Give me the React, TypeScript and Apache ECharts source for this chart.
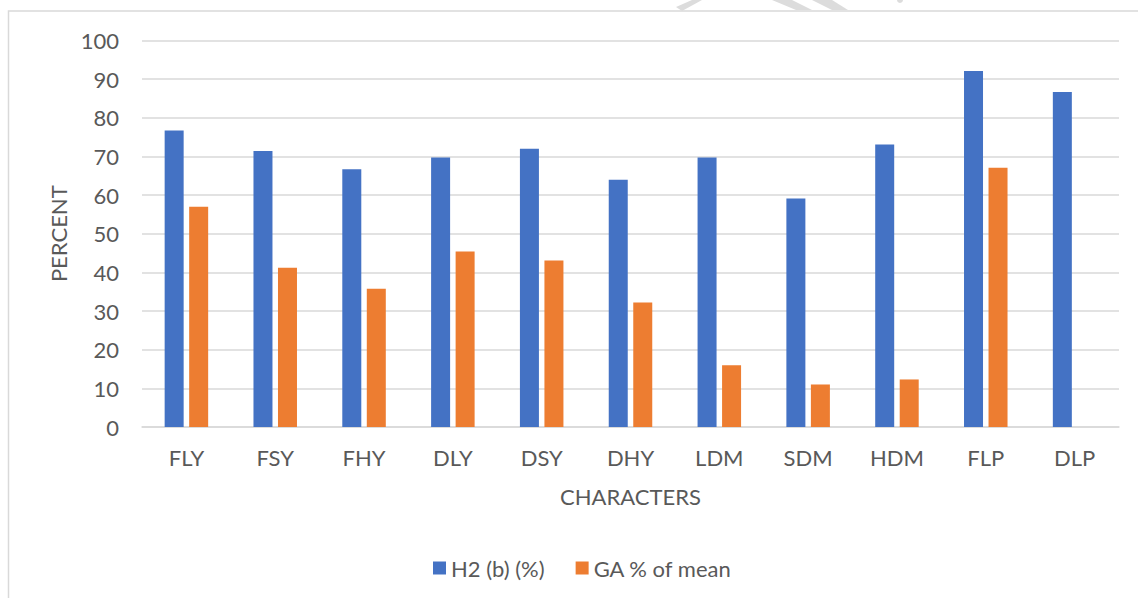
import React, { useEffect, useRef } from "react";
import * as echarts from "echarts";

const categories = ["FLY", "FSY", "FHY", "DLY", "DSY", "DHY", "LDM", "SDM", "HDM", "FLP", "DLP"];
const h2Values = [76.7, 71.4, 66.7, 69.7, 72.0, 64.0, 69.7, 59.1, 73.1, 92.1, 86.7];
const gaValues: (number | null)[] = [57.0, 41.2, 35.8, 45.4, 43.1, 32.2, 16.0, 11.0, 12.3, 67.1, null];
const seriesNames = ["H2 (b) (%)", "GA % of mean"];
const yTicks = { min: 0, max: 100, interval: 10 };

const FONT = "Lato, 'Open Sans', sans-serif";
const FS = 22;
const TEXT = "#595959";
const GRID = "#d9d9d9";

export default function App() {
  const ref = useRef<HTMLDivElement>(null);
  useEffect(() => {
    if (!ref.current) return;
    const chart = echarts.init(ref.current, undefined, { renderer: "svg" });
    chart.setOption({
      animation: false,
      backgroundColor: "#ffffff",
      textStyle: { fontFamily: FONT },
      grid: { left: 142, right: 19, top: 40.5, bottom: 171, containLabel: false },
      legend: {
        left: 428,
        top: 552,
        itemWidth: 13,
        itemHeight: 13,
        itemGap: 31,
        icon: "rect",
        textStyle: { color: TEXT, fontSize: FS, fontFamily: FONT },
        data: seriesNames,
      },
      xAxis: {
        type: "category",
        data: categories,
        name: "CHARACTERS",
        nameLocation: "middle",
        nameGap: 58,
        nameTextStyle: { color: TEXT, fontSize: FS, fontFamily: FONT },
        axisLine: { show: true, lineStyle: { color: GRID, width: 1.5 } },
        axisTick: { show: false },
        axisLabel: { color: TEXT, fontSize: FS, margin: 19, fontFamily: FONT },
      },
      yAxis: {
        type: "value",
        min: yTicks.min,
        max: yTicks.max,
        interval: yTicks.interval,
        name: "PERCENT",
        nameLocation: "middle",
        nameGap: 72,
        nameTextStyle: { color: TEXT, fontSize: FS, fontFamily: FONT },
        axisLine: { show: false },
        axisTick: { show: false },
        axisLabel: { color: TEXT, fontSize: FS, margin: 23, fontFamily: FONT },
        splitLine: { show: true, lineStyle: { color: GRID, width: 1.5 } },
      },
      series: [
        {
          name: seriesNames[0],
          type: "bar",
          data: h2Values,
          barWidth: 19,
          barGap: "29%",
          itemStyle: { color: "#4472c4" },
        },
        {
          name: seriesNames[1],
          type: "bar",
          data: gaValues,
          barWidth: 19,
          barGap: "29%",
          itemStyle: { color: "#ed7d31" },
        },
      ],
      graphic: [
        {
          type: "rect",
          silent: true,
          shape: { x: 8.5, y: 11, width: 1300, height: 800 },
          style: { fill: "none", stroke: GRID, lineWidth: 1.5 },
        },
        {
          type: "polygon",
          silent: true,
          shape: { points: [[676, 7], [682, 11], [702, 0], [692, 0]] },
          style: { fill: "#dcdcdc" },
        },
        {
          type: "polygon",
          silent: true,
          shape: { points: [[772, 0], [792, 0], [812, 10], [796, 10]] },
          style: { fill: "#dcdcdc" },
        },
        {
          type: "polygon",
          silent: true,
          shape: { points: [[812, 0], [832, 0], [848, 10], [832, 10]] },
          style: { fill: "#dcdcdc" },
        },
        {
          type: "circle",
          silent: true,
          shape: { cx: 900, cy: 0, r: 3 },
          style: { fill: "#dcdcdc" },
        },
      ],
    });
    return () => chart.dispose();
  }, []);
  return (
    <div
      ref={ref}
      style={{ position: "fixed", left: 0, top: 0, width: 1138, height: 598, background: "#fff" }}
    />
  );
}
